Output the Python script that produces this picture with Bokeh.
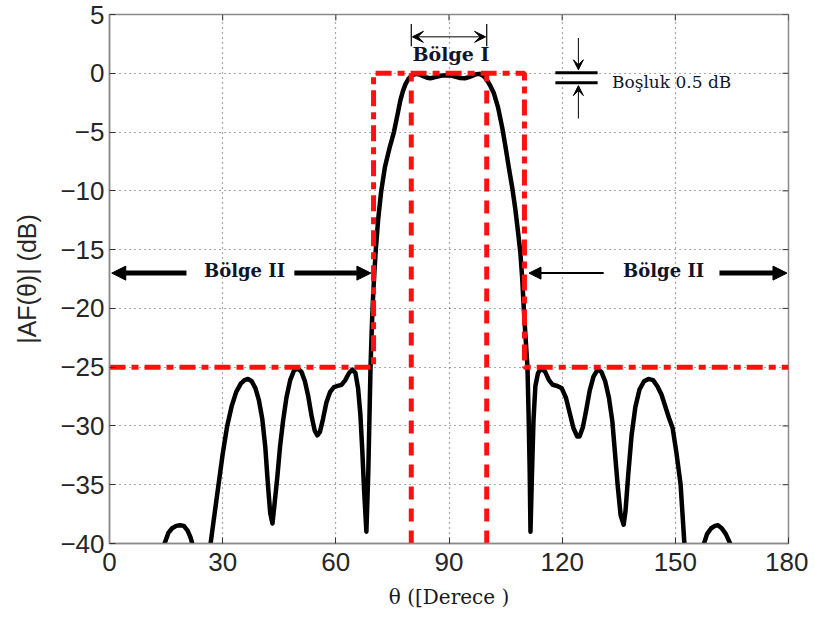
from bokeh.plotting import figure
from bokeh.models import (Range1d, FixedTicker, Label, Arrow, NormalHead, VeeHead)
from bokeh.embed import file_html
from bokeh.resources import INLINE

# ---------------- data ----------------
theta = [13.5, 14.6, 15.6, 16.6, 17.7, 18.7, 19.7, 20.7, 21.5, 22.2, 23.2, 24.5, 25.8,
         26.8, 27.8, 28.9, 30.0, 31.2, 32.4, 33.6, 34.8, 35.8, 36.7, 37.7, 38.7, 39.6,
         40.5, 41.3, 42.0, 42.6, 43.2, 43.8, 44.5, 45.2, 46.0, 46.9, 47.9, 48.9, 49.9,
         50.9, 51.8, 52.7, 53.6, 54.4, 55.1, 55.8, 56.6, 57.5, 58.5, 59.5, 60.5, 61.5,
         62.5, 63.5, 64.4, 65.2, 65.9, 66.5, 67.0, 67.5, 68.1, 68.6, 68.9, 69.2, 69.5,
         69.8, 70.2, 70.6, 71.2, 72.0, 73.0, 74.2, 75.4, 76.3, 77.1, 77.8, 78.5, 79.3,
         80.2, 81.2, 82.2, 83.2, 84.2, 85.1, 86.1, 87.2, 88.4, 89.5, 90.6, 91.8, 93.0,
         94.2, 95.3, 96.3, 97.2, 98.0, 98.8, 99.5, 100.1, 101.0, 101.9, 103.0, 104.1,
         105.0, 105.9, 106.8, 107.6, 108.3, 108.9, 109.4, 109.8, 110.3, 110.8, 111.1,
         111.4, 111.6, 112.0, 112.4, 112.9, 113.6, 114.5, 115.5, 116.5, 117.5, 118.7,
         119.9, 121.0, 122.0, 123.0, 124.0, 124.6, 125.5, 126.4, 127.3, 128.3, 129.4,
         130.4, 131.4, 132.4, 133.3, 134.0, 134.7, 135.5, 136.3, 136.8, 137.5, 138.4,
         139.4, 140.5, 141.7, 142.9, 144.1, 145.2, 146.3, 147.3, 148.3, 149.3, 150.3,
         151.4, 152.4, 153.4, 154.8, 156.2, 157.4, 158.4, 159.5, 160.5, 161.3, 162.3,
         163.4, 164.4, 165.2, 166.5]
af_db = [-44, -40, -39.1, -38.7, -38.5, -38.45, -38.5, -38.9, -39.5, -40.3, -43, -50, -43,
         -40, -37.6, -35, -32.4, -30, -28.3, -27.1, -26.4, -26.1, -26.0, -26.2, -26.8, -27.8,
         -29.4, -31.8, -35, -37.4, -38.3, -36.5, -34.3, -31.8, -29.6, -27.6, -26.1, -25.3, -25.1,
         -25.4, -26.2, -27.5, -29.2, -30.4, -30.8, -30.5, -29.4, -28.0, -27.1, -26.7, -26.6, -26.5,
         -26.1, -25.5, -25.2, -25.5, -26.8, -29, -32, -35.5, -39.0, -34, -29.5, -25, -22,
         -19.5, -17, -15, -12.5, -10.1, -8.0, -6.4, -5.0, -3.6, -2.3, -1.5, -0.9, -0.45,
         -0.17, -0.05, -0.1, -0.25, -0.38, -0.42, -0.35, -0.25, -0.18, -0.17, -0.2, -0.3, -0.4,
         -0.42, -0.33, -0.2, -0.08, -0.05, -0.15, -0.35, -0.6, -1.1, -1.7, -2.9, -4.6,
         -6.3, -8.1, -9.8, -11.6, -13.5, -15.2, -17.4, -19.8, -22.5, -25, -29,
         -34, -39, -34, -29.5, -26.6, -25.5, -25.1, -25.4, -26.1, -26.5, -26.6,
         -26.8, -27.6, -28.9, -30.2, -30.9, -30.9, -30.1, -28.6, -27.0, -25.8, -25.2,
         -25.4, -26.2, -27.6, -29.6, -32.3, -35, -37.6, -38.4, -37.2, -34.2, -30.8,
         -28.4, -26.9, -26.2, -26.0, -26.1, -26.6, -27.3, -28.3, -29.3, -30.2, -32.3,
         -35, -40, -45, -52, -45, -40.2, -39.2, -38.7, -38.5, -38.45, -38.7,
         -39.2, -39.9, -40.5, -44]

mask_x = [0, 70, 70, 110, 110, 180]
mask_y = [-25, -25, 0, 0, -25, -25]
region_I = [80, 100]
region_I_top = 0
x_ticks = [0, 30, 60, 90, 120, 150, 180]
y_ticks = [-40, -35, -30, -25, -20, -15, -10, -5, 0, 5]
x_min, x_max = 0, 180
y_min, y_max = -40, 5

FRAME_W, FRAME_H = 679, 529

# ---------------- figure ----------------
p = figure(frame_width=FRAME_W, frame_height=FRAME_H,
           x_range=Range1d(x_min, x_max), y_range=Range1d(y_min, y_max),
           output_backend="svg", toolbar_location=None,
           min_border_left=109, min_border_right=20,
           min_border_top=14, min_border_bottom=76,
           background_fill_color="white", border_fill_color="white")

p.outline_line_color = "#8a8a8a"
p.outline_line_width = 1.5

tick_font = "Liberation Sans"
for ax in (p.xaxis[0], p.yaxis[0]):
    ax.major_label_text_font = tick_font
    ax.major_label_text_font_size = "26px"
    ax.major_label_text_color = "#262626"
    ax.axis_line_color = "#8a8a8a"
    ax.axis_line_width = 1.5
    ax.major_tick_in = 6
    ax.major_tick_out = 0
    ax.major_tick_line_color = "#333333"
    ax.minor_tick_line_color = None

p.xaxis.ticker = FixedTicker(ticks=x_ticks)
p.yaxis.ticker = FixedTicker(ticks=y_ticks)
p.yaxis.major_label_overrides = {t: (str(t).replace("-", "\u2212")) for t in y_ticks}
p.xaxis.major_label_standoff = 9
p.yaxis.major_label_standoff = 5

p.xaxis.axis_label = "\u03b8 ([Derece )"
p.xaxis.axis_label_text_font = "DejaVu Serif"
p.xaxis.axis_label_text_font_style = "normal"
p.xaxis.axis_label_text_font_size = "20px"
p.xaxis.axis_label_text_color = "#1a1a1a"
p.xaxis.axis_label_standoff = 11

p.yaxis.axis_label = "|AF(\u03b8)| (dB)"
p.yaxis.axis_label_text_font = tick_font
p.yaxis.axis_label_text_font_style = "normal"
p.yaxis.axis_label_text_font_size = "25px"
p.yaxis.axis_label_text_color = "#262626"
p.yaxis.axis_label_standoff = 16

for g in (p.xgrid[0], p.ygrid[0]):
    g.grid_line_color = "#404040"
    g.grid_line_dash = "1 4"
    g.grid_line_width = 1.2
    g.grid_line_alpha = 0.9
p.xgrid.ticker = FixedTicker(ticks=x_ticks)
p.ygrid.ticker = FixedTicker(ticks=y_ticks)

# box ticks on top and right (inside), 6 px long
tick_dx = 6 * (x_max - x_min) / FRAME_W
tick_dy = 6 * (y_max - y_min) / FRAME_H
p.segment(x0=x_ticks, y0=[y_max] * len(x_ticks), x1=x_ticks, y1=[y_max - tick_dy] * len(x_ticks),
          line_color="#333333", line_width=1)
p.segment(x0=[x_max] * len(y_ticks), y0=y_ticks, x1=[x_max - tick_dx] * len(y_ticks), y1=y_ticks,
          line_color="#333333", line_width=1)

# ---------------- curve and mask ----------------
p.line(theta, af_db, line_color="black", line_width=4.5, line_join="round")

red = "#ff1010"
p.line(mask_x, mask_y, line_color=red, line_width=5, line_dash="16 6 7 6")
p.segment(x0=region_I, y0=[y_min] * len(region_I), x1=region_I,
          y1=[region_I_top] * len(region_I),
          line_color=red, line_width=5, line_dash="13 9")

# ---------------- annotations ----------------
ann_color = "#10162a"
serif = "DejaVu Serif"

# Region I double arrow
p.add_layout(Arrow(start=VeeHead(size=11, fill_color="black", line_color="black", line_width=1),
                   end=VeeHead(size=11, fill_color="black", line_color="black", line_width=1),
                   x_start=80.3, y_start=3.1, x_end=99.7, y_end=3.1,
                   line_color="black", line_width=1))
p.segment(x0=region_I, y0=[2.3, 2.3], x1=region_I, y1=[4.2, 4.2],
          line_color="black", line_width=1.2)
p.add_layout(Label(x=90.5, y=1.65, text="B\u00f6lge I", text_font=serif,
                   text_font_style="bold", text_font_size="19px", text_color=ann_color,
                   text_align="center", text_baseline="middle"))

# 0.5 dB gap symbol
p.segment(x0=[118.2, 118.2], y0=[0.05, -0.8], x1=[129.4, 129.4], y1=[0.05, -0.8],
          line_color="black", line_width=3)
p.add_layout(Arrow(end=VeeHead(size=10, fill_color="black", line_color="black", line_width=1),
                   x_start=124.3, y_start=3.0, x_end=124.3, y_end=0.3,
                   line_color="black", line_width=1))
p.add_layout(Arrow(end=VeeHead(size=10, fill_color="black", line_color="black", line_width=1),
                   x_start=124.3, y_start=-3.85, x_end=124.3, y_end=-1.05,
                   line_color="black", line_width=1))
p.add_layout(Label(x=133.2, y=-0.75, text="Bo\u015fluk 0.5 dB", text_font=serif,
                   text_font_size="17px", text_color=ann_color,
                   text_align="left", text_baseline="middle"))

# Region II arrows and labels
def thick_arrow(x0, x1, y, w=5, size=14):
    p.add_layout(Arrow(end=NormalHead(size=size, fill_color="black", line_color="black",
                                      line_width=1),
                       x_start=x0, y_start=y, x_end=x1, y_end=y,
                       line_color="black", line_width=w))

thick_arrow(20.4, 0.6, -17.0)
thick_arrow(49.0, 69.3, -17.0)
thick_arrow(131.0, 111.2, -17.0, w=2, size=12)
thick_arrow(161.7, 179.6, -17.0)

for cx in (35.8, 146.9):
    p.add_layout(Label(x=cx, y=-16.8, text="B\u00f6lge II", text_font=serif,
                       text_font_style="bold", text_font_size="18px", text_color=ann_color,
                       text_align="center", text_baseline="middle"))

open("out.html", "w").write(file_html(p, INLINE))
